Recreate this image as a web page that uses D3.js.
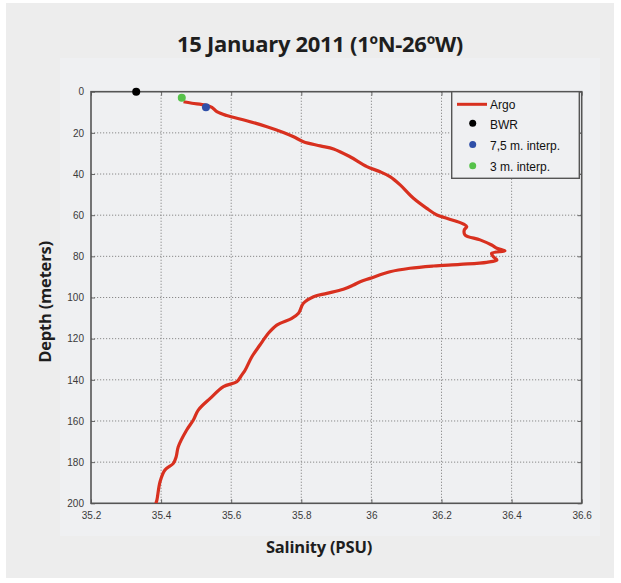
<!DOCTYPE html>
<html lang="en">
<head>
<meta charset="utf-8">
<title>15 January 2011 (1ºN-26ºW)</title>
<script src="https://d3js.org/d3.v7.min.js"></script>
<style>
  body { margin: 0; background: #fff; }
  .tick text { font-family: "Liberation Sans Narrow", "Arial Narrow", sans-serif; font-size: 10px; fill: #3a3a3a; }
  .lbl { font-family: "Open Sans", sans-serif; font-weight: 700; fill: #1e1e1e; }
  .leg { font-family: "Liberation Sans", Arial, sans-serif; font-size: 12px; fill: #111; }
</style>
</head>
<body>
<div id="chart"></div>
<script>
// Argo profile (salinity in PSU vs depth in m)
var argoSalinity = [35.464, 35.488, 35.526, 35.545, 35.559, 35.587, 35.644, 35.702, 35.749, 35.778,
  35.806, 35.854, 35.892, 35.939, 35.987, 36.025, 36.053, 36.082, 36.120, 36.158,
  36.187, 36.215, 36.263, 36.272, 36.265, 36.267, 36.310, 36.343, 36.358, 36.381,
  36.343, 36.348, 36.358, 36.329, 36.253, 36.177, 36.110, 36.053, 35.996, 35.968,
  35.949, 35.920, 35.873, 35.835, 35.806, 35.792, 35.773, 35.730, 35.706, 35.682,
  35.659, 35.640, 35.630, 35.616, 35.578, 35.540, 35.506, 35.492, 35.473, 35.449,
  35.443, 35.435, 35.411, 35.397, 35.388, 35.385];
var argoDepth = [4.9, 5.6, 6.5, 7.6, 9.7, 11.6, 14.1, 17, 19.8, 21.9,
  24.3, 26.3, 27.8, 31.6, 36.4, 38.9, 41.3, 45.3, 51.8, 56.7,
  59.9, 61.5, 64.3, 65.6, 67.2, 69.6, 72, 74.5, 76.1, 77.4,
  78.5, 80.2, 81.8, 82.9, 83.9, 84.7, 85.8, 87.5, 90.7, 92.3,
  93.9, 96, 98, 99.6, 102.8, 107.7, 110.1, 113.4, 117.4, 123.1,
  128.8, 135.2, 137.7, 140.9, 143.3, 149, 154.7, 159.5, 164.4, 172.5,
  177.4, 180.6, 183.8, 189.5, 198.4, 200];

// single observations
var pointNames = ["BWR", "7,5 m. interp.", "3 m. interp."];
var pointSalinity = [35.329, 35.528, 35.459];
var pointDepth = [0, 7.5, 3];
var pointColors = ["#000000", "#2f4fa8", "#56c24a"];

var xTicks = [35.2, 35.4, 35.6, 35.8, 36, 36.2, 36.4, 36.6];
var yTicks = [0, 20, 40, 60, 80, 100, 120, 140, 160, 180, 200];

var W = 621, H = 583;
var plot = {left: 91, top: 91.7, right: 581.7, bottom: 503.3};

var svg = d3.select("#chart").append("svg")
    .attr("width", W)
    .attr("height", H);

// background panels
svg.append("rect").attr("x", 6).attr("y", 3).attr("width", 608).attr("height", 575).attr("fill", "#ededed");
svg.append("rect").attr("x", 60).attr("y", 58).attr("width", 540).attr("height", 478).attr("fill", "#eff0f2");

var x = d3.scaleLinear().domain([35.2, 36.6]).range([plot.left, plot.right]);
var y = d3.scaleLinear().domain([0, 200]).range([plot.top, plot.bottom]);

// grid
var grid = svg.append("g");
grid.selectAll(".gx").data(xTicks.slice(1, -1)).enter().append("line")
    .attr("x1", d => x(d)).attr("x2", d => x(d))
    .attr("y1", plot.top).attr("y2", plot.bottom)
    .attr("stroke", "#8a8a8a").attr("stroke-width", 1).attr("stroke-dasharray", "1.2,1.8");
grid.selectAll(".gy").data(yTicks.slice(1, -1)).enter().append("line")
    .attr("y1", d => y(d)).attr("y2", d => y(d))
    .attr("x1", plot.left).attr("x2", plot.right)
    .attr("stroke", "#8a8a8a").attr("stroke-width", 1).attr("stroke-dasharray", "1.2,1.8");

// axes (matlab style: inward ticks on all sides)
var fmtX = d => d3.format("")(+d.toFixed(1));
svg.append("g")
    .attr("transform", "translate(0," + plot.bottom + ")")
    .call(d3.axisBottom(x).tickValues(xTicks).tickFormat(fmtX).tickSizeInner(-4).tickSizeOuter(0).tickPadding(9))
    .call(g => g.select(".domain").remove())
    .call(g => g.selectAll("line").attr("stroke", "#666"));
svg.append("g")
    .attr("transform", "translate(" + plot.left + ",0)")
    .call(d3.axisLeft(y).tickValues(yTicks).tickSizeInner(-4).tickSizeOuter(0).tickPadding(7))
    .call(g => g.select(".domain").remove())
    .call(g => g.selectAll("line").attr("stroke", "#666"));
svg.append("g")
    .attr("transform", "translate(0," + plot.top + ")")
    .call(d3.axisTop(x).tickValues(xTicks).tickFormat("").tickSizeInner(-4).tickSizeOuter(0))
    .call(g => g.select(".domain").remove())
    .call(g => g.selectAll("line").attr("stroke", "#666"));
svg.append("g")
    .attr("transform", "translate(" + plot.right + ",0)")
    .call(d3.axisRight(y).tickValues(yTicks).tickFormat("").tickSizeInner(-4).tickSizeOuter(0))
    .call(g => g.select(".domain").remove())
    .call(g => g.selectAll("line").attr("stroke", "#666"));

// frame
svg.append("rect")
    .attr("x", plot.left).attr("y", plot.top)
    .attr("width", plot.right - plot.left).attr("height", plot.bottom - plot.top)
    .attr("fill", "none").attr("stroke", "#555").attr("stroke-width", 1.6);

// Argo line
svg.append("clipPath").attr("id", "clip").append("rect")
    .attr("x", plot.left).attr("y", plot.top)
    .attr("width", plot.right - plot.left).attr("height", plot.bottom - plot.top);
var line = d3.line().x(d => x(d[0])).y(d => y(d[1])).curve(d3.curveCatmullRom.alpha(0.5));
svg.append("path")
    .datum(argoSalinity.map((s, i) => [s, argoDepth[i]]))
    .attr("clip-path", "url(#clip)")
    .attr("d", line)
    .attr("fill", "none")
    .attr("stroke", "#d8301f")
    .attr("stroke-width", 3.2)
    .attr("stroke-linejoin", "round");

// points
svg.selectAll(".pt").data(pointNames).enter().append("circle")
    .attr("cx", (d, i) => x(pointSalinity[i]))
    .attr("cy", (d, i) => y(pointDepth[i]))
    .attr("r", 4)
    .attr("fill", (d, i) => pointColors[i]);

// legend
var leg = svg.append("g");
leg.append("rect").attr("x", 451.7).attr("y", plot.top).attr("width", 127.6).attr("height", 86.6)
    .attr("fill", "#eff0f2").attr("stroke", "#555").attr("stroke-width", 1.4);
leg.append("line").attr("x1", 457).attr("x2", 487).attr("y1", 104.3).attr("y2", 104.3)
    .attr("stroke", "#d8301f").attr("stroke-width", 3);
leg.append("text").attr("class", "leg").attr("x", 490).attr("y", 108.6).text("Argo");
pointNames.forEach(function (n, i) {
  var ly = 124.3 + i * 21.2;
  leg.append("circle").attr("cx", 472.7).attr("cy", ly - 1).attr("r", 3.5).attr("fill", pointColors[i]);
  leg.append("text").attr("class", "leg").attr("x", 490).attr("y", ly + 4.3).text(n);
});

// titles
svg.append("text").attr("class", "lbl")
    .attr("x", 320).attr("y", 52).attr("text-anchor", "middle")
    .style("font-size", "22px").style("letter-spacing", "-0.3px").text("15 January 2011 (1ºN-26ºW)");
svg.append("text").attr("class", "lbl")
    .attr("x", 319).attr("y", 553).attr("text-anchor", "middle")
    .style("font-size", "16.5px").style("letter-spacing", "-0.2px").text("Salinity (PSU)");
svg.append("text").attr("class", "lbl")
    .attr("transform", "translate(51,302) rotate(-90)")
    .attr("text-anchor", "middle")
    .style("font-size", "16.5px").style("letter-spacing", "-0.2px").text("Depth (meters)");
</script>
</body>
</html>
